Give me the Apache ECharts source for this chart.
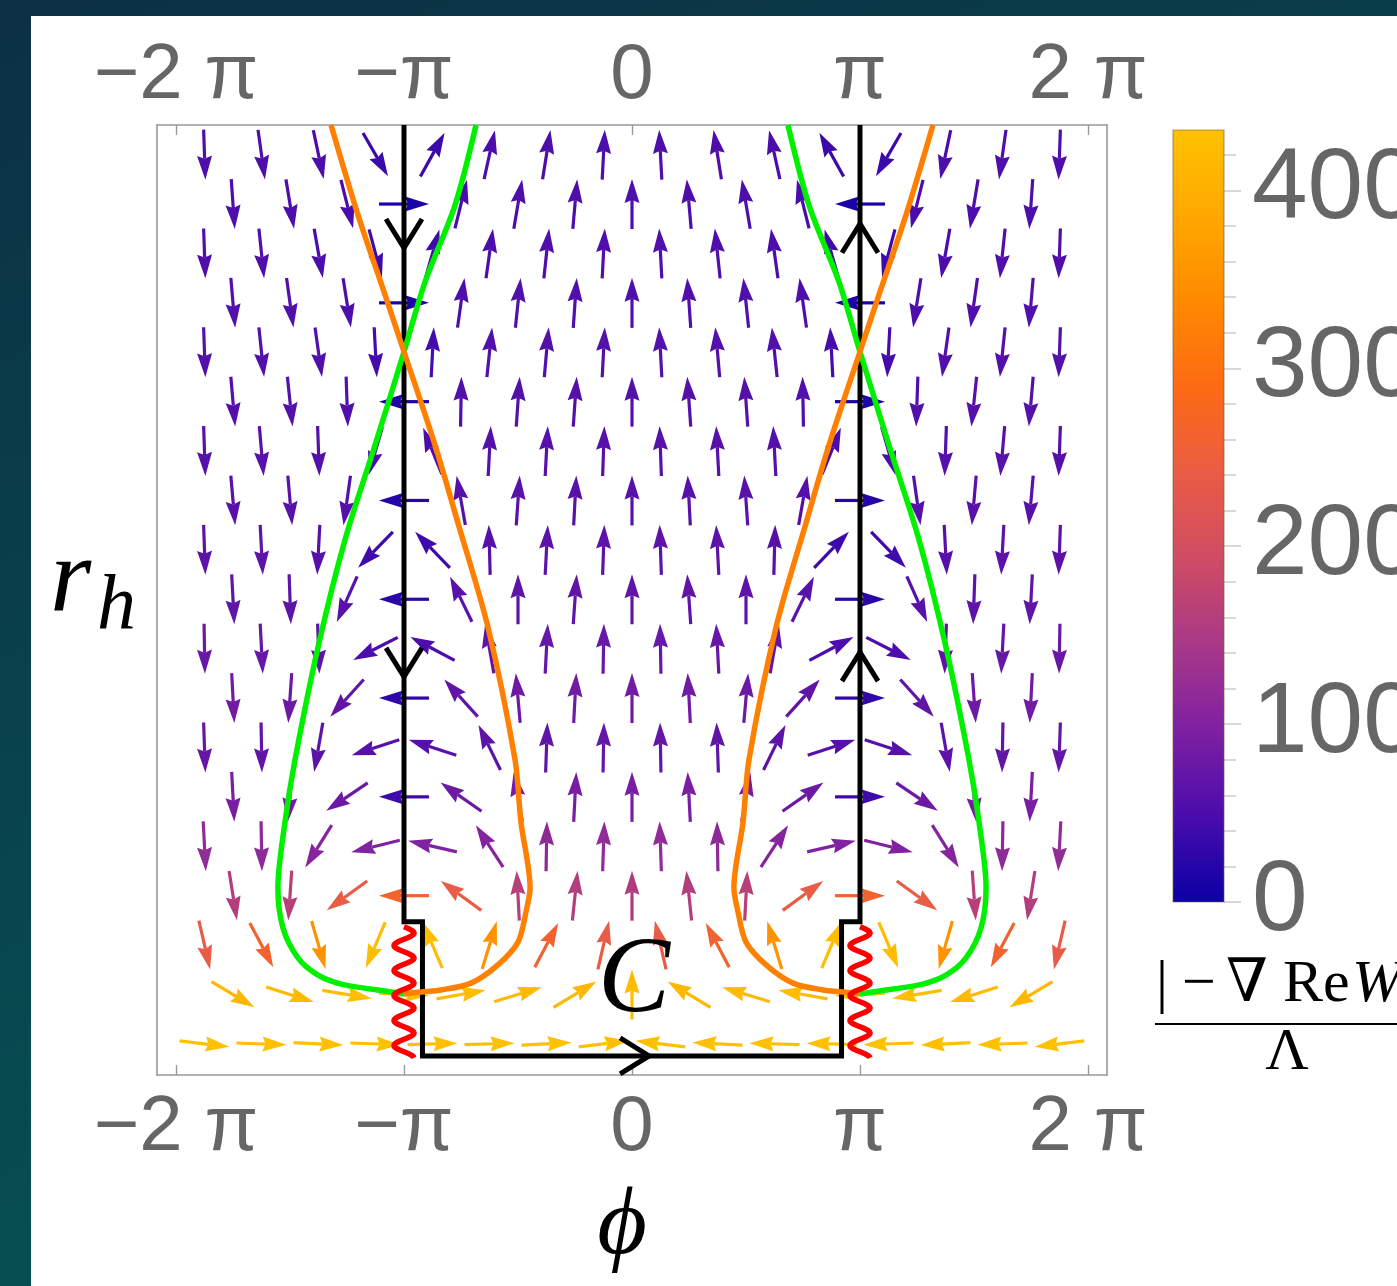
<!DOCTYPE html>
<html>
<head>
<meta charset="utf-8">
<script src="https://cdn.jsdelivr.net/npm/echarts@6/dist/echarts.min.js"></script>
<style>
html, body { margin: 0; padding: 0; }
#main { width: 1397px; height: 1286px; background: linear-gradient(160deg, #0c3044 0%, #074a50 60%, #02574f 100%); }
</style>
</head>
<body>
<div id="main"></div>
<script>
// 坐标轴
var phiRange = [-2.0833, 2.0833];
var rhRange = [0, 19.23];
var phiTicks = [-2, -1, 0, 1, 2];
var phiTickLabels = ['\u22122 \u03c0', '\u2212\u03c0', '0', '\u03c0', '2 \u03c0'];

// 颜色条 |−∇Re W|/Λ
var barMax = 434;
var barTicks = [0, 100, 200, 300, 400];
var barMinorTicks = [0, 20, 40, 60, 80, 100, 120, 140, 160, 180, 200, 220, 240, 260, 280, 300, 320, 340, 360, 380, 400, 420];
var barColors = ['#0a00a5', '#4a0cac', '#7e20a2', '#a83888', '#cf4c64', '#ea5c44', '#fc6a14', '#ff8a00', '#ffa800', '#ffc200'];

// 向量场：左半边读数，右半边 phi -> -phi 镜像（角度 180 - a）
// 行从上到下；偶数行用 phiOffsetCols，奇数行用 phiGridCols
var rhRows = [18.63, 17.63, 16.63, 15.63, 14.63, 13.63, 12.63, 11.63, 10.63, 9.63,
  8.63, 7.63, 6.63, 5.63, 4.63, 3.63, 2.63, 1.63, 0.63];
var phiOffsetCols = [-1.875, -1.625, -1.375, -1.125, -0.875, -0.625, -0.375, -0.125];
var phiGridCols = [-1.75, -1.5, -1.25, -1, -0.75, -0.5, -0.25, 0];
// 箭头方向（度，0 = 向右，90 = 向上）
var arrowAngle = [
  [-88, -82, -78, -60, 61, 77.5, 81, 87],
  [-86, -80.6, -76, 0, 76, 80.4, 85, 90],
  [-88, -84, -80, -75, 74, 82, 84, 87],
  [-85, -82, -81, 0, 82, 84, 86, 90],
  [-88, -84, -82, -87, 87, 84, 85, 87],
  [-85, -84, -88, 180, 89, 86, 86, 90],
  [-88, -85, -88, -106, 112, 87, 87, 88],
  [-85, -85, -98, 180, 100, 86, 87, 90],
  [-88, -87, -93, -134, 134, 91.5, 87, 88],
  [-87, -88, -114, 180, 116, 90, 86, 90],
  [-89, -87, -88, -153, 152, 100, 87, 89],
  [-87, -94, -132, 180, 132, 95, 87, 90],
  [-88, -89, -100, -162, 162, 116, 88, 89],
  [-87, -95, -146, 180, 145, 100, 87, 90],
  [-87, -89, -122, -166, 167, 123, 89, 88],
  [-81, -94, -144, 180, 144, 93, 84, 90],
  [-77, -62, -74, -113, 113, 73, 62, 77],
  [-31, -17.5, -9.4, -3, 10, 17, 31, 90],
  [-6.7, -2, -2.7, -2, 1.5, 1.5, 3, 7]
];
// 箭头模长（用于着色）
var arrowMag = [
  [52, 52, 50, 38, 38, 50, 52, 52],
  [52, 52, 48, 12, 48, 52, 52, 52],
  [54, 54, 50, 40, 40, 50, 54, 54],
  [55, 55, 52, 14, 52, 55, 55, 55],
  [57, 57, 55, 45, 45, 55, 57, 57],
  [58, 58, 55, 16, 55, 58, 58, 58],
  [60, 60, 57, 50, 50, 57, 60, 60],
  [62, 62, 58, 20, 58, 62, 62, 62],
  [66, 64, 60, 40, 40, 60, 64, 66],
  [70, 68, 62, 25, 62, 68, 70, 70],
  [76, 74, 68, 50, 50, 68, 74, 76],
  [84, 80, 70, 30, 70, 80, 84, 84],
  [72, 70, 66, 60, 60, 66, 70, 72],
  [92, 88, 80, 40, 80, 88, 92, 92],
  [118, 115, 105, 100, 100, 105, 115, 118],
  [160, 165, 240, 265, 240, 165, 158, 155],
  [238, 262, 350, 425, 425, 350, 262, 238],
  [415, 420, 425, 430, 425, 420, 415, 425],
  [430, 430, 430, 430, 430, 430, 430, 430]
];

// 绿线、橙线（左半边，右半边镜像）
var greenLeft = [[-0.684, 19.23], [-0.776, 17.61], [-0.908, 16.05], [-1.0, 14.64], [-1.127, 12.75],
  [-1.259, 10.83], [-1.377, 8.66], [-1.478, 6.38], [-1.522, 5.12], [-1.553, 3.79], [-1.531, 2.98],
  [-1.465, 2.37], [-1.377, 2.02], [-1.276, 1.84], [-1.145, 1.74], [-1.026, 1.66], [-1.0, 1.64]];
var orangeLeft = [[-1.32, 19.23], [-1.202, 17.41], [-1.083, 15.79], [-1.0, 14.64], [-0.864, 12.75],
  [-0.763, 11.17], [-0.632, 9.07], [-0.513, 6.38], [-0.487, 5.12], [-0.447, 3.79], [-0.465, 3.3],
  [-0.5, 2.69], [-0.588, 2.23], [-0.706, 1.86], [-0.838, 1.72], [-0.925, 1.68], [-1.0, 1.64]];

// 积分围道 C
var contourPhi = [-1, -1, -0.919, -0.919, 0.919, 0.919, 1, 1];
var contourRh = [19.23, 3.1, 3.1, 0.385, 0.385, 3.1, 3.1, 19.23];
var contourArrows = [[-1, 16.74, -90], [-1, 8.06, -90], [1, 17.23, 90], [1, 8.56, 90], [0.075, 0.385, 0]];
var branchCuts = [[-1, 3.0, 0.344], [1, 3.0, 0.344]];

var arrows = [];
rhRows.forEach(function (r, i) {
  var cols = i % 2 === 0 ? phiOffsetCols : phiGridCols;
  arrowAngle[i].forEach(function (ang, k) {
    var phi = cols[k];
    var mag = arrowMag[i][k];
    arrows.push([phi, r, ang, mag]);
    if (phi !== 0) {
      arrows.push([-phi, r, 180 - ang, mag]);
    }
  });
});
var mirror = function (list) {
  return list.map(function (p) { return [-p[0], p[1]]; });
};
var contourData = contourPhi.map(function (p, i) { return [p, contourRh[i]]; });

var renderArrow = function (params, api) {
  var p = api.coord([api.value(0), api.value(1)]);
  var a = api.value(2) * Math.PI / 180;
  var color = api.visual('color');
  var ux = Math.cos(a), uy = -Math.sin(a);
  var nx = -uy, ny = ux;
  var half = 25, headLen = 24, headW = 7.5, notch = 3;
  var tip = [p[0] + ux * half, p[1] + uy * half];
  var tail = [p[0] - ux * half, p[1] - uy * half];
  var bx = tip[0] - ux * headLen, by = tip[1] - uy * headLen;
  var mx = bx + ux * notch, my = by + uy * notch;
  return {
    type: 'group',
    children: [
      { type: 'line', shape: { x1: tail[0], y1: tail[1], x2: mx, y2: my }, style: { stroke: color, lineWidth: 3.2 } },
      { type: 'polygon', shape: { points: [tip, [bx + nx * headW, by + ny * headW], [mx, my], [bx - nx * headW, by - ny * headW]] }, style: { fill: color } }
    ]
  };
};

var renderChevron = function (params, api) {
  var p = api.coord([api.value(0), api.value(1)]);
  var a = api.value(2) * Math.PI / 180;
  var ux = Math.cos(a), uy = -Math.sin(a);
  var nx = -uy, ny = ux;
  var back = 29, side = 18;
  return {
    type: 'polyline',
    shape: { points: [[p[0] - ux * back + nx * side, p[1] - uy * back + ny * side], p, [p[0] - ux * back - nx * side, p[1] - uy * back - ny * side]] },
    style: { stroke: '#000', lineWidth: 5, fill: null, lineJoin: 'miter' }
  };
};

var renderZigzag = function (params, api) {
  var p1 = api.coord([api.value(0), api.value(1)]);
  var p2 = api.coord([api.value(0), api.value(2)]);
  var pts = [];
  for (var t = 0; t <= p2[1] - p1[1]; t += 1) {
    pts.push([p1[0] + 10 * Math.sin(2 * Math.PI * t / 25), p1[1] + t]);
  }
  return {
    type: 'polyline',
    shape: { points: pts },
    style: { stroke: '#ff0000', lineWidth: 5.5, fill: null }
  };
};

var renderBar = function (params, api) {
  var p0 = api.coord([0, 0]);
  var p1 = api.coord([1, api.value(1)]);
  return {
    type: 'rect',
    shape: { x: p0[0], y: p1[1], width: p1[0] - p0[0], height: p0[1] - p1[1] },
    style: {
      fill: {
        type: 'linear', x: 0, y: 1, x2: 0, y2: 0,
        colorStops: barColors.map(function (c, i) { return { offset: i / (barColors.length - 1), color: c }; })
      },
      stroke: 'rgba(120,90,60,0.55)',
      lineWidth: 1.2
    }
  };
};

var phiLabel = function (v) {
  return phiTickLabels[phiTicks.indexOf(Math.round(v))];
};
var frameLine = { show: true, onZero: false, lineStyle: { color: '#999', width: 1.6 } };
var phiAxis = function (pos, margin) {
  return {
    type: 'value', gridIndex: 0, position: pos, min: phiRange[0], max: phiRange[1],
    axisLine: frameLine,
    axisTick: { show: true, inside: true, length: 10, customValues: phiTicks, lineStyle: { color: '#999', width: 1.4 } },
    axisLabel: { customValues: phiTicks, formatter: phiLabel, fontSize: 78, color: '#666', fontFamily: 'Liberation Sans', margin: margin },
    splitLine: { show: false }
  };
};
var rhAxis = function (pos) {
  return {
    type: 'value', gridIndex: 0, position: pos, min: rhRange[0], max: rhRange[1],
    axisLine: frameLine, axisTick: { show: false }, axisLabel: { show: false }, splitLine: { show: false }
  };
};

var mathFont = '"Liberation Serif", "DejaVu Serif", serif';
var txt = function (text, x, y, size, align, italic) {
  return {
    type: 'text', x: x, y: y, z: 10,
    style: {
      text: text, fill: '#000', align: align, verticalAlign: 'middle',
      font: (italic ? 'italic ' : '') + size + 'px ' + mathFont
    }
  };
};

var chart = echarts.init(document.getElementById('main'));
chart.setOption({
  animation: false,
  backgroundColor: 'transparent',
  graphic: [
    { type: 'rect', z: -10, shape: { x: 31, y: 16, width: 1366, height: 1270 }, style: { fill: '#fff' } },
    txt('r', 50, 582, 106, 'left', true),
    txt('h', 97, 608, 78, 'left', true),
    txt('\u03d5', 622, 1228, 96, 'center', true),
    txt('C', 634, 983, 108, 'center', true),
    txt('|', 1162, 985, 60, 'center', false),
    txt('\u2212', 1199, 985, 60, 'center', false),
    txt('\u2207', 1247, 985, 60, 'center', false),
    txt('Re', 1283, 985, 60, 'left', false),
    txt('W', 1352, 985, 60, 'left', true),
    txt('\u039b', 1287, 1053, 60, 'center', false),
    { type: 'line', z: 10, shape: { x1: 1155, y1: 1024, x2: 1420, y2: 1024 }, style: { stroke: '#000', lineWidth: 2 } }
  ],
  grid: [
    { left: 157, top: 125, width: 950, height: 950, outerBoundsMode: 'none' },
    { left: 1173, top: 130, width: 51, height: 772, outerBoundsMode: 'none' },
    { left: 1173, top: 130, width: 51, height: 772, outerBoundsMode: 'none' }
  ],
  xAxis: [
    phiAxis('bottom', 14),
    phiAxis('top', 10),
    { type: 'value', gridIndex: 1, min: 0, max: 1, show: false },
    { type: 'value', gridIndex: 2, min: 0, max: 1, show: false }
  ],
  yAxis: [
    rhAxis('left'),
    rhAxis('right'),
    {
      type: 'value', gridIndex: 1, position: 'right', min: 0, max: barMax,
      axisLine: { show: false, onZero: false },
      axisTick: { show: true, length: 12, customValues: barMinorTicks, lineStyle: { color: '#ccc', width: 1.5 } },
      axisLabel: { show: false }, splitLine: { show: false }
    },
    {
      type: 'value', gridIndex: 2, position: 'right', min: 0, max: barMax,
      axisLine: { show: false, onZero: false },
      axisTick: { show: true, length: 17, customValues: barTicks, lineStyle: { color: '#ccc', width: 1.5 } },
      axisLabel: { customValues: barTicks, fontSize: 100, color: '#666', fontFamily: 'Liberation Sans', margin: 28 },
      splitLine: { show: false }
    }
  ],
  visualMap: {
    show: false, type: 'continuous', seriesIndex: 0, dimension: 3,
    min: 0, max: barMax, inRange: { color: barColors }
  },
  series: [
    { type: 'custom', name: 'field', renderItem: renderArrow, data: arrows, z: 1, clip: true },
    {
      type: 'line', name: 'C', data: contourData, showSymbol: false, z: 3,
      lineStyle: { color: '#000', width: 5, join: 'miter', cap: 'butt' }
    },
    { type: 'custom', name: 'Cdir', renderItem: renderChevron, data: contourArrows, z: 3 },
    {
      type: 'line', name: 'greenL', data: greenLeft, showSymbol: false, smooth: 0.3, z: 4,
      lineStyle: { color: '#00f000', width: 5.5 }
    },
    {
      type: 'line', name: 'greenR', data: mirror(greenLeft), showSymbol: false, smooth: 0.3, z: 4,
      lineStyle: { color: '#00f000', width: 5.5 }
    },
    {
      type: 'line', name: 'orangeL', data: orangeLeft, showSymbol: false, smooth: 0.3, z: 4,
      lineStyle: { color: '#ff8000', width: 5.5 }
    },
    {
      type: 'line', name: 'orangeR', data: mirror(orangeLeft), showSymbol: false, smooth: 0.3, z: 4,
      lineStyle: { color: '#ff8000', width: 5.5 }
    },
    { type: 'custom', name: 'cut', renderItem: renderZigzag, data: branchCuts, z: 5 },
    { type: 'custom', name: 'bar', xAxisIndex: 2, yAxisIndex: 2, renderItem: renderBar, data: [[0, barMax]], z: 1 }
  ]
});
</script>
</body>
</html>
